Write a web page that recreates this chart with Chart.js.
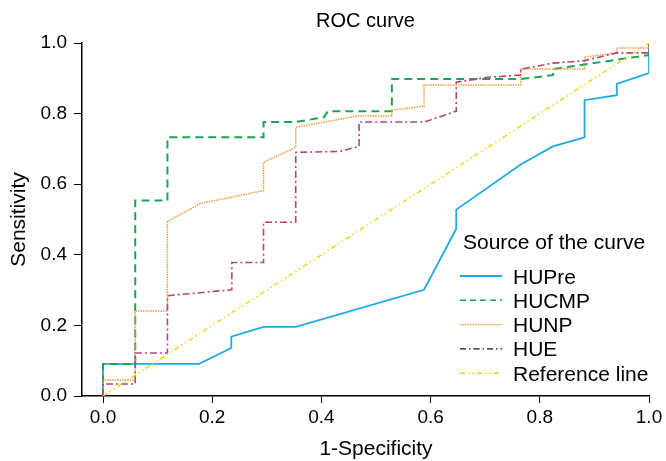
<!DOCTYPE html>
<html>
<head>
<meta charset="utf-8">
<script src="https://cdn.jsdelivr.net/npm/chart.js@4.4.0/dist/chart.umd.min.js"></script>
<style>
  html, body { margin: 0; padding: 0; background: #fff; }
</style>
</head>
<body>
<canvas id="roc-chart" width="666" height="461"></canvas>
<script>
// ROC curve

const xTicks = [0, 0.2, 0.4, 0.6, 0.8, 1.0];
const yTicks = [0, 0.2, 0.4, 0.6, 0.8, 1.0];

const hupreX = [0, 0, 0.176, 0.235, 0.235, 0.294, 0.353, 0.588, 0.647, 0.647, 0.765, 0.824, 0.882, 0.882, 0.941, 0.941, 1, 1];
const hupreY = [0, 0.091, 0.091, 0.136, 0.168, 0.196, 0.196, 0.301, 0.474, 0.528, 0.656, 0.707, 0.733, 0.838, 0.852, 0.884, 0.915, 1];

const hucmpX = [0, 0, 0.059, 0.059, 0.118, 0.118, 0.294, 0.294, 0.353, 0.405, 0.412, 0.529, 0.529, 0.765, 0.824, 0.824, 1, 1];
const hucmpY = [0, 0.091, 0.091, 0.554, 0.554, 0.733, 0.733, 0.776, 0.776, 0.79, 0.807, 0.807, 0.898, 0.898, 0.909, 0.926, 0.966, 1];

const hunpX = [0, 0, 0.059, 0.059, 0.118, 0.118, 0.178, 0.294, 0.294, 0.342, 0.353, 0.353, 0.465, 0.529, 0.529, 0.588, 0.588, 0.765, 0.765, 0.882, 0.882, 0.941, 0.941, 1, 1];
const hunpY = [0, 0.045, 0.045, 0.241, 0.241, 0.494, 0.545, 0.582, 0.662, 0.696, 0.705, 0.761, 0.793, 0.793, 0.81, 0.821, 0.881, 0.881, 0.926, 0.926, 0.96, 0.972, 0.986, 0.986, 1];

const hueX = [0, 0, 0.059, 0.059, 0.118, 0.118, 0.236, 0.236, 0.294, 0.294, 0.353, 0.353, 0.434, 0.469, 0.469, 0.588, 0.647, 0.647, 0.706, 0.765, 0.765, 0.824, 0.882, 0.941, 1, 1];
const hueY = [0, 0.034, 0.034, 0.122, 0.122, 0.284, 0.301, 0.378, 0.378, 0.492, 0.492, 0.69, 0.693, 0.707, 0.776, 0.776, 0.807, 0.889, 0.903, 0.909, 0.926, 0.943, 0.95, 0.972, 0.972, 1];

const refX = [0, 1];
const refY = [0, 1];

const seriesNames = ["HUPre", "HUCMP", "HUNP", "HUE", "Reference line"];

const FONT = "'Liberation Sans', Arial, sans-serif";

function toPoints(xs, ys) {
  return xs.map((x, i) => ({ x: x, y: ys[i] }));
}

// legend is drawn by hand, SPSS puts it inside the plot
const legendStyles = [
  { color: "#1fa9e6", dash: [], width: 2 },
  { color: "#1aa552", dash: [6, 4], width: 1.6 },
  { color: "#f39a3a", dash: [1.5, 1], width: 1.3 },
  { color: "#111111", dash: [6, 3, 1.5, 3], width: 1.3 },
  { color: "#f5cf0a", dash: [5, 3, 1.5, 3, 1.5, 3], width: 1.4 },
];

const legendPlugin = {
  id: "rocLegend",
  afterDraw(chart) {
    const ctx = chart.ctx;
    ctx.save();
    ctx.fillStyle = "#000";
    ctx.textBaseline = "alphabetic";
    ctx.textAlign = "left";
    ctx.font = "21px " + FONT;
    ctx.fillText("Source of the curve", 463, 249);

    seriesNames.forEach((name, i) => {
      const y = 276 + i * 24.3;
      const st = legendStyles[i];
      ctx.beginPath();
      ctx.setLineDash(st.dash);
      ctx.strokeStyle = st.color;
      ctx.lineWidth = st.width;
      ctx.moveTo(460, y);
      ctx.lineTo(502, y);
      ctx.stroke();
      ctx.setLineDash([]);
      ctx.fillText(name, 513, y + 7.5);
    });

    // x axis title, centred over 0..1 rather than the whole axis
    ctx.textAlign = "center";
    ctx.textBaseline = "middle";
    ctx.fillText("1-Specificity", 376, 449);
    ctx.restore();
  },
};

const ctx = document.getElementById("roc-chart").getContext("2d");

new Chart(ctx, {
  type: "scatter",
  data: {
    datasets: [
      {
        label: seriesNames[4],
        data: toPoints(refX, refY),
        borderColor: "#f5cf0a",
        borderDash: [5, 3, 1.5, 3, 1.5, 3],
        borderWidth: 1.4,
      },
      {
        label: seriesNames[3],
        data: toPoints(hueX, hueY),
        borderColor: "#b2447f",
        borderDash: [7, 3, 2, 3],
        borderWidth: 1.6,
      },
      {
        label: seriesNames[2],
        data: toPoints(hunpX, hunpY),
        borderColor: "#f39a3a",
        borderDash: [1.5, 1],
        borderWidth: 1.5,
      },
      {
        label: seriesNames[1],
        data: toPoints(hucmpX, hucmpY),
        borderColor: "#1aa552",
        borderDash: [8, 5],
        borderWidth: 2,
      },
      {
        label: seriesNames[0],
        data: toPoints(hupreX, hupreY),
        borderColor: "#1fa9e6",
        borderWidth: 1.8,
      },
    ].map((d) => ({ ...d, showLine: true, pointRadius: 0, fill: false, tension: 0 })),
  },
  options: {
    responsive: false,
    animation: false,
    layout: { padding: { left: 0, right: 17, top: 0, bottom: 0 } },
    plugins: {
      legend: { display: false },
      tooltip: { enabled: false },
      title: {
        display: true,
        text: "ROC curve",
        fullSize: false,
        color: "#000",
        font: { family: FONT, size: 20, weight: "normal" },
        padding: { top: 9, bottom: 10 },
      },
    },
    scales: {
      x: {
        type: "linear",
        min: -0.0385,
        max: 1,
        afterBuildTicks: (scale) => {
          scale.ticks = xTicks.map((v) => ({ value: v }));
        },
        afterFit: (scale) => {
          scale.height = 65;
        },
        grid: { drawOnChartArea: false, drawTicks: true, tickLength: 7, color: "#000", lineWidth: 1 },
        border: { display: true, color: "#000", width: 1.5 },
        ticks: {
          color: "#000",
          padding: 3,
          maxRotation: 0,
          font: { family: FONT, size: 19 },
          callback: (v) => Number(v).toFixed(1),
        },
      },
      y: {
        type: "linear",
        min: 0,
        max: 1,
        afterBuildTicks: (scale) => {
          scale.ticks = yTicks.map((v) => ({ value: v }));
        },
        afterFit: (scale) => {
          scale.width = 82;
        },
        grid: { drawOnChartArea: false, drawTicks: true, tickLength: 8, color: "#000", lineWidth: 1 },
        border: { display: true, color: "#000", width: 1.5 },
        ticks: {
          color: "#000",
          padding: 7,
          font: { family: FONT, size: 19 },
          callback: (v) => Number(v).toFixed(1),
        },
        title: {
          display: true,
          text: "Sensitivity",
          color: "#000",
          font: { family: FONT, size: 21 },
          padding: { top: 7, bottom: 0 },
        },
      },
    },
  },
  plugins: [legendPlugin],
});
</script>
</body>
</html>
